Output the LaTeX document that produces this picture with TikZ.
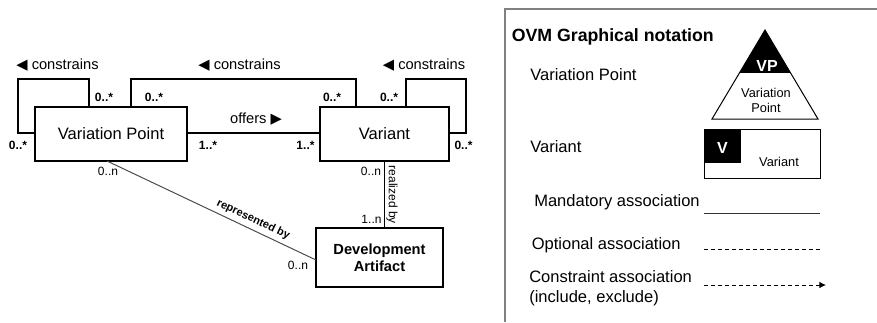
\documentclass[tikz,border=0pt]{standalone}
\usepackage{fontspec}
\setmainfont{Liberation Sans}
\newfontfamily\symfont{DejaVu Sans}
\usetikzlibrary{arrows.meta,calc}
\tikzset{
  px/.style={x=0.75pt,y=-0.75pt},
  entity/.style={draw,line width=1.5pt,fill=white},
  thick line/.style={line width=1.5pt},
  thin line/.style={line width=0.75pt},
  lbl/.style={inner sep=0pt,font=\fontsize{11}{13}\selectfont},
  mult/.style={inner sep=0pt,font=\fontsize{9}{11}\selectfont\bfseries},
  multn/.style={inner sep=0pt,font=\fontsize{9}{11}\selectfont},
  legend/.style={inner sep=0pt,anchor=west,font=\fontsize{12.4}{15}\selectfont},
}
\begin{document}
\begin{tikzpicture}[px]
\useasboundingbox (0,0) rectangle (877,322);
% entities
\node[entity,minimum width=152*0.75pt,minimum height=54*0.75pt,font=\fontsize{12.4}{15}\selectfont] (vp) at (111,134) {Variation Point};
\node[entity,minimum width=129*0.75pt,minimum height=54*0.75pt,font=\fontsize{12.4}{15}\selectfont] (var) at (384.5,134) {Variant};
\node[entity,minimum width=127*0.75pt,minimum height=59*0.75pt,align=center,font=\fontsize{11}{13}\selectfont\bfseries] (da) at (379.5,257.5) {Development\\Artifact};
% coordinates of loops
\coordinate (a1) at (18,133);
\coordinate (a2) at (18,79);
\coordinate (a3) at (89,79);
\coordinate (b1) at (131,79);
\coordinate (b2) at (356,79);
\coordinate (c1) at (406,79);
\coordinate (c2) at (466,79);
\coordinate (c3) at (466,133);
% VP self loop
\draw[thick line] (vp.west |- a1) -- (a1) -- (a2) -- (a3) -- (a3 |- vp.north);
% VP-Variant constrains loop
\draw[thick line] (b1 |- vp.north) -- (b1) -- (b2) -- (b2 |- var.north);
% Variant self loop
\draw[thick line] (c1 |- var.north) -- (c1) -- (c2) -- (c3) -- (c3 -| var.east);
% offers
\draw[thick line] (vp.east |- a1) -- (var.west |- a1);
% realized by
\coordinate (r) at (384,0);
\draw[thin line] (r |- var.south) -- (r |- da.north);
% represented by
\coordinate (p1) at (107,161);
\coordinate (p2) at (316,260);
\draw[thin line,draw=black!70] (p1) -- node[pos=0.68,sloped,above=3pt,inner sep=0pt,font=\fontsize{8.3}{10}\selectfont\bfseries] (repl) {represented by} (p2);
% labels
\node[lbl] (l1) at (57.5,65) {{\symfont ◀} constrains};
\node[lbl] (l2) at (239.5,65) {{\symfont ◀} constrains};
\node[lbl] (l3) at (424,65) {{\symfont ◀} constrains};
\node[lbl] (l4) at (256,119) {offers {\symfont ▶}};
\node[mult] (m1) at (104,97) {0..*};
\node[mult] (m2) at (18,145) {0..*};
\node[mult] (m3) at (154,97) {0..*};
\node[mult] (m4) at (332,97) {0..*};
\node[mult] (m5) at (389,97) {0..*};
\node[mult] (m6) at (463.5,145) {0..*};
\node[mult] (m7) at (208,145) {1..*};
\node[mult] (m8) at (305.5,145) {1..*};
\node[multn] (n1) at (108,171) {0..n};
\node[multn] (n2) at (371,171) {0..n};
\node[multn] (n3) at (371.5,219) {1..n};
\node[multn] (n4) at (298,265) {0..n};
\node[inner sep=0pt,rotate=-90,font=\fontsize{9}{11}\selectfont] (rl) at (392,195) {realized by};
% legend panel
\draw[line width=1.5pt,draw=black!50] (505,322) -- (505,9.3) -- (877,9.3);
\node[inner sep=0pt,anchor=west,font=\fontsize{13.3}{16}\selectfont\bfseries] (title) at (511.5,37) {OVM Graphical notation};
\node[legend] (t1) at (530,75) {Variation Point};
\node[legend] (t2) at (530,147) {Variant};
\node[legend] (t3) at (534,202) {Mandatory association};
\node[legend] (t4) at (531.5,245) {Optional association};
\node[legend,align=left] (t5) at (529,288) {Constraint association\\(include, exclude)};
% triangle symbol
\coordinate (ta) at (765,30);
\coordinate (tl) at (712,119);
\coordinate (tr) at (818,119);
\fill[black] (ta) -- ($(ta)!0.483!(tl)$) -- ($(ta)!0.483!(tr)$) -- cycle;
\draw[thin line] (ta) -- (tl) -- (tr) -- cycle;
\node[inner sep=0pt,text=white,font=\fontsize{12}{14}\selectfont\bfseries] (vpt) at (767,66) {VP};
\node[inner sep=0pt,align=center,font=\fontsize{9.6}{11.3}\selectfont] (vpn) at (766,100.5) {Variation\\Point};
% variant symbol
\node[draw,thin line,minimum width=116*0.75pt,minimum height=49*0.75pt,inner sep=0pt] (vbox) at (762,153.5) {};
\fill[black] (vbox.north west) rectangle (741,162.7);
\node[inner sep=0pt,text=white,font=\fontsize{12}{14}\selectfont\bfseries] (vv) at (722.5,148) {V};
\node[inner sep=0pt,font=\fontsize{9.6}{11.3}\selectfont] (vvt) at (779,162) {Variant};
% association lines
\coordinate (s1) at (704,213);
\coordinate (e1) at (820,213);
\coordinate (s2) at (704,249);
\coordinate (e2) at (820,249);
\coordinate (s3) at (704,285);
\coordinate (e3) at (826,285);
\draw[thin line,draw=black!80] (s1) -- (e1);
\draw[thin line,dash pattern=on 3pt off 2.25pt] (s2) -- (e2);
\draw[thin line,dash pattern=on 3pt off 2.25pt,-{Latex[length=5pt,width=5pt]}] (s3) -- (e3);
\end{tikzpicture}
\end{document}
